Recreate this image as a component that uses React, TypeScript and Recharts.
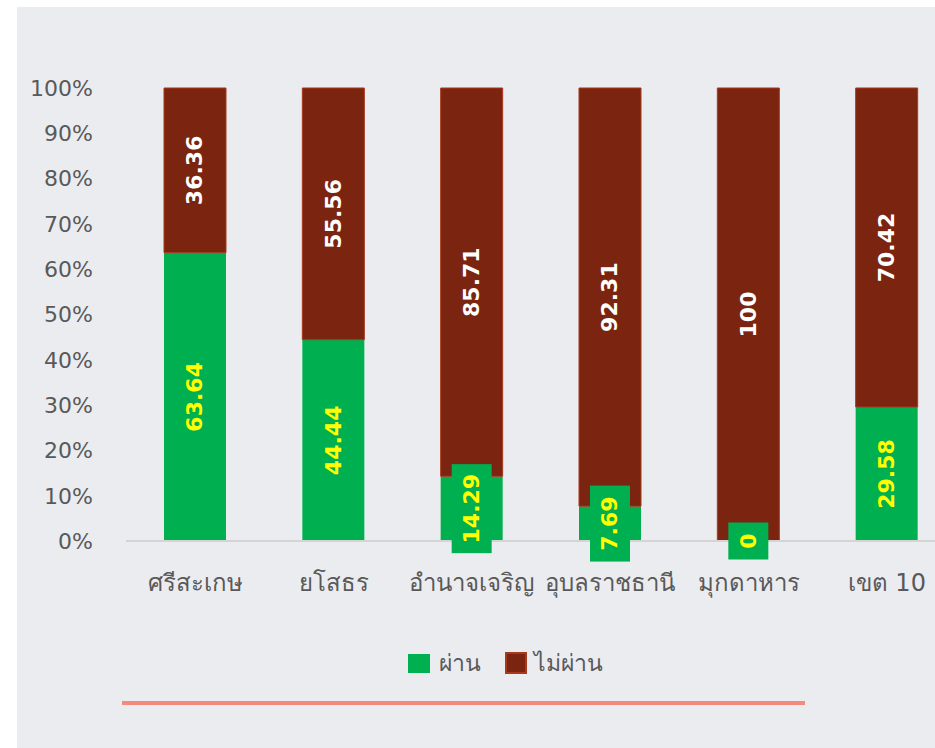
import React from 'react';
import { BarChart, Bar, XAxis, YAxis, LabelList } from 'recharts';

const categories = ['ศรีสะเกษ', 'ยโสธร', 'อำนาจเจริญ', 'อุบลราชธานี', 'มุกดาหาร', 'เขต 10'];
const passValues = [63.64, 44.44, 14.29, 7.69, 0, 29.58];
const failValues = [36.36, 55.56, 85.71, 92.31, 100, 70.42];
const yTicks = [0, 10, 20, 30, 40, 50, 60, 70, 80, 90, 100];
const seriesNames = ['ผ่าน', 'ไม่ผ่าน'];

const GREEN = '#00b050';
const MAROON = '#7b2410';
const MAROON_EDGE = '#a9391d';
const FONT = "'DejaVu Sans', 'Noto Sans', sans-serif";

const data = categories.map((name, i) => ({
  name,
  pass: passValues[i],
  fail: failValues[i],
}));

function rectOf(props: any) {
  const vb = props.viewBox || {};
  return {
    x: Number(props.x ?? vb.x),
    y: Number(props.y ?? vb.y),
    width: Number(props.width ?? vb.width),
    height: Number(props.height ?? vb.height),
  };
}

function FailLabel(props: any) {
  const { x, y, width, height } = rectOf(props);
  const cx = x + width / 2;
  const cy = y + height / 2;
  return (
    <text
      x={cx}
      y={cy}
      transform={`rotate(-90 ${cx} ${cy})`}
      textAnchor="middle"
      dominantBaseline="central"
      fill="#ffffff"
      fontWeight="bold"
      fontSize={22}
      fontFamily={FONT}
    >
      {props.value}
    </text>
  );
}

// green labels are drawn from the fail bar so the box sits above it
function PassLabel(props: any) {
  const { x, y, width, height } = rectOf(props);
  const i = props.index;
  const pass = passValues[i];
  const fail = failValues[i];
  const greenH = (height * pass) / fail;
  const cx = x + width / 2;
  const cy = y + height + greenH / 2;
  const txt = String(pass);
  const boxH = txt.length * 13 + 24;
  return (
    <g>
      <rect x={cx - 20} y={cy - boxH / 2} width={40} height={boxH} fill={GREEN} />
      <text
        x={cx}
        y={cy}
        transform={`rotate(-90 ${cx} ${cy})`}
        textAnchor="middle"
        dominantBaseline="central"
        fill="#ffff00"
        fontWeight="bold"
        fontSize={22}
        fontFamily={FONT}
      >
        {txt}
      </text>
    </g>
  );
}

function ChartLegend() {
  return (
    <div
      style={{
        position: 'absolute',
        left: 408,
        top: 645,
        display: 'flex',
        alignItems: 'center',
        fontFamily: FONT,
        fontSize: 23,
        color: '#595959',
        whiteSpace: 'nowrap',
      }}
    >
      <span style={{ display: 'flex', alignItems: 'center', marginRight: 24 }}>
        <span style={{ width: 22, height: 19, background: GREEN, marginRight: 9 }} />
        {seriesNames[0]}
      </span>
      <span style={{ display: 'flex', alignItems: 'center' }}>
        <span
          style={{
            width: 18,
            height: 18,
            background: MAROON,
            border: `2px solid ${MAROON_EDGE}`,
            marginRight: 7,
          }}
        />
        {seriesNames[1]}
      </span>
    </div>
  );
}

export default function App() {
  return (
    <div
      style={{
        position: 'absolute',
        left: 0,
        top: 0,
        width: 935,
        height: 748,
        background: '#ffffff',
        overflow: 'hidden',
      }}
    >
      <div
        style={{
          position: 'absolute',
          left: 17,
          top: 7,
          right: 0,
          bottom: 0,
          background: '#ebecf0',
        }}
      />
      <div style={{ position: 'absolute', left: 0, top: 0 }}>
        <BarChart
          width={960}
          height={748}
          data={data}
          margin={{ top: 88, right: 4, bottom: 177, left: 0 }}
        >
          <XAxis
            dataKey="name"
            axisLine={{ stroke: '#d4d4d4', strokeWidth: 2 }}
            tickLine={false}
            tickMargin={27}
            tick={{ fill: '#595959', fontSize: 24, fontFamily: FONT }}
            interval={0}
          />
          <YAxis
            width={126}
            domain={[0, 100]}
            ticks={yTicks}
            axisLine={false}
            tickLine={false}
            tickMargin={27}
            tickFormatter={(v: number) => `${v}%`}
            tick={{ fill: '#595959', fontSize: 22, fontFamily: FONT }}
          />
          <Bar dataKey="pass" stackId="a" fill={GREEN} barSize={62} isAnimationActive={false} />
          <Bar
            dataKey="fail"
            stackId="a"
            fill={MAROON}
            stroke={MAROON_EDGE}
            strokeWidth={1}
            barSize={62}
            isAnimationActive={false}
          >
            <LabelList dataKey="fail" content={FailLabel} />
            <LabelList dataKey="pass" content={PassLabel} />
          </Bar>
        </BarChart>
      </div>
      <ChartLegend />
      <div
        style={{
          position: 'absolute',
          left: 122,
          top: 701,
          width: 683,
          height: 4,
          background: '#f28a80',
        }}
      />
    </div>
  );
}
